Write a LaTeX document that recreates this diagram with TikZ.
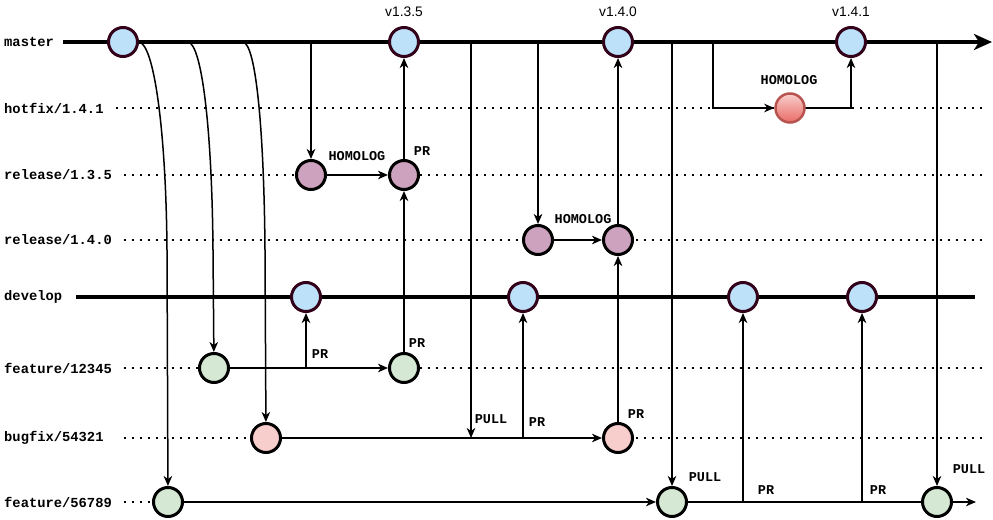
\documentclass[tikz,border=0pt]{standalone}
\usepackage{fontspec}
\setmainfont{Liberation Sans}
\setmonofont{Liberation Mono}
\usepackage{xcolor}
\definecolor{ColMain}{RGB}{190,225,250}
\definecolor{ColMainD}{RGB}{51,0,26}
\definecolor{ColRel}{RGB}{205,162,190}
\definecolor{ColFeat}{RGB}{213,232,212}
\definecolor{ColBug}{RGB}{248,206,204}
\definecolor{ColHotT}{RGB}{248,206,204}
\definecolor{ColHotB}{RGB}{234,107,102}
\definecolor{ColHotD}{RGB}{184,84,80}
\usepackage{tikz}
\usetikzlibrary{arrows.meta}
\tikzstyle{Commit}=[circle,draw=black,line width=3bp,minimum size=29bp,inner sep=0pt]
\tikzstyle{CommitMain}=[Commit,draw=ColMainD,fill=ColMain]
\tikzstyle{CommitRel}=[Commit,fill=ColRel]
\tikzstyle{CommitFeat}=[Commit,fill=ColFeat]
\tikzstyle{CommitBug}=[Commit,fill=ColBug]
\tikzstyle{CommitHot}=[Commit,line width=2.5bp,draw=ColHotD,top color=ColHotT,bottom color=ColHotB]
\tikzstyle{Trunk}=[line width=4bp,draw=black]
\tikzstyle{Lane}=[line width=1.6bp,dash pattern=on 1.6bp off 6.4bp]
\tikzstyle{Edge}=[line width=1.5bp,draw=black]
\tikzstyle{Merge}=[Edge,-{Stealth[length=10bp,width=8.5bp,inset=3bp]}]
\tikzstyle{NodeBr}=[anchor=west,inner sep=0pt,font=\ttfamily\bfseries\fontsize{13.8bp}{16bp}\selectfont]
\tikzstyle{NodeLb}=[inner sep=0pt,font=\ttfamily\bfseries\fontsize{13.5bp}{16bp}\selectfont]
\tikzstyle{NodeTag}=[inner sep=0pt,font=\fontsize{13.8bp}{16bp}\selectfont]

\begin{document}
\begin{tikzpicture}[x=1bp,y=-1bp]
        \useasboundingbox(0,0)rectangle(993,520);
        % branch names
        \node[NodeBr](lm)at(4,42){master};
        \node[NodeBr](lh)at(4,108){hotfix/1.4.1};
        \node[NodeBr](lr1)at(4,175){release/1.3.5};
        \node[NodeBr](lr2)at(4,240){release/1.4.0};
        \node[NodeBr](ld)at(4,297){develop};
        \node[NodeBr](lf1)at(4,368){feature/12345};
        \node[NodeBr](lb)at(4,438){bugfix/54321};
        \node[NodeBr](lf2)at(4,502){feature/56789};
        % lanes
        \coordinate(hs)at(116,108);\coordinate(he)at(982,108);
        \coordinate(r1s)at(124,175);\coordinate(r1e)at(982,175);
        \coordinate(r2s)at(124,240);\coordinate(r2e)at(982,240);
        \coordinate(f1s)at(124,368);\coordinate(f1e)at(982,368);
        \coordinate(bs)at(124,438);\coordinate(be)at(982,438);
        \coordinate(f2s)at(124,502);\coordinate(f2e)at(160,502);
        \draw[Lane](hs)--(he);
        \draw[Lane](r1s)--(r1e);
        \draw[Lane](r2s)--(r2e);
        \draw[Lane](f1s)--(f1e);
        \draw[Lane](bs)--(be);
        \draw[Lane](f2s)--(f2e);
        \coordinate(ms)at(63,42);\coordinate(me)at(992,42);
        \coordinate(ds)at(76,297);\coordinate(de)at(975,297);
        \draw[Trunk,-{Stealth[length=18bp,width=16bp,inset=5bp]}](ms)--(me);
        \draw[Trunk](ds)--(de);
        % commits
        \node[CommitMain](M1)at(123,42){};
        \node[CommitMain](M2)at(404,42){};
        \node[CommitMain](M3)at(618,42){};
        \node[CommitMain](M4)at(851,42){};
        \node[CommitHot](H)at(790,108){};
        \node[CommitRel](R1)at(311,175){};
        \node[CommitRel](R2)at(404,175){};
        \node[CommitRel](L1)at(538,240){};
        \node[CommitRel](L2)at(618,240){};
        \node[CommitMain](D1)at(306,297){};
        \node[CommitMain](D2)at(523,297){};
        \node[CommitMain](D3)at(743,297){};
        \node[CommitMain](D4)at(862,297){};
        \node[CommitFeat](F1)at(214,368){};
        \node[CommitFeat](F2)at(404,368){};
        \node[CommitBug](B1)at(266,438){};
        \node[CommitBug](B2)at(618,438){};
        \node[CommitFeat](G1)at(168,502){};
        \node[CommitFeat](G2)at(672,502){};
        \node[CommitFeat](G3)at(937,502){};
        % tags
        \node[NodeTag](v1)at(404,12){v1.3.5};
        \node[NodeTag](v2)at(618,12){v1.4.0};
        \node[NodeTag](v3)at(851,12){v1.4.1};
        % branching off master
        \coordinate(c1s)at(139,42);\coordinate(c1m)at(167,250);
        \coordinate(c2s)at(188,42);\coordinate(c2m)at(213,250);
        \coordinate(c3s)at(243,42);\coordinate(c3m)at(265,250);
        \draw[Merge](c1s)..controls(154,44)and(166,130)..(c1m)--(G1);
        \draw[Merge](c2s)..controls(202,44)and(212,130)..(c2m)--(F1);
        \draw[Merge](c3s)..controls(256,44)and(264,130)..(c3m)--(B1);
        \coordinate(m311)at(311,42);
        \coordinate(m471)at(471,42);
        \coordinate(m538)at(538,42);
        \coordinate(m672)at(672,42);
        \coordinate(m713)at(713,42);
        \coordinate(m937)at(937,42);
        % releases and hotfix
        \draw[Merge](m311)--(R1);
        \draw[Merge](R1)--(R2);
        \draw[Merge](R2)--(M2);
        \draw[Merge](m538)--(L1);
        \draw[Merge](L1)--(L2);
        \draw[Merge](L2)--(M3);
        \draw[Merge](m713)|-(H);
        \draw[Merge](H)-|(M4);
        % feature/12345
        \coordinate(f1pr)at(306,368);
        \draw[Merge](F1)--(F2);
        \draw[Merge](f1pr)--(D1);
        \draw[Merge](F2)--(R2);
        % bugfix/54321
        \coordinate(bpull)at(471,438);
        \coordinate(bpr)at(523,438);
        \draw[Merge](B1)--(B2);
        \draw[Merge](m471)--(bpull);
        \draw[Merge](bpr)--(D2);
        \draw[Merge](B2)--(L2);
        % feature/56789
        \coordinate(g743)at(743,502);
        \coordinate(g862)at(862,502);
        \coordinate(gend)at(976,502);
        \draw[Merge](G1)--(G2);
        \draw[Merge](m672)--(G2);
        \draw[Edge](G2)--(G3);
        \draw[Merge](g743)--(D3);
        \draw[Merge](g862)--(D4);
        \draw[Merge](m937)--(G3);
        \draw[Merge](G3)--(gend);
        % labels
        \node[NodeLb](t1)at(357,156){HOMOLOG};
        \node[NodeLb](t2)at(422,151){PR};
        \node[NodeLb](t3)at(789,80){HOMOLOG};
        \node[NodeLb](t4)at(583,219){HOMOLOG};
        \node[NodeLb](t5)at(320,354){PR};
        \node[NodeLb](t6)at(417,343){PR};
        \node[NodeLb](t7)at(491,419){PULL};
        \node[NodeLb](t8)at(537,422){PR};
        \node[NodeLb](t9)at(636,414){PR};
        \node[NodeLb](t10)at(705,477){PULL};
        \node[NodeLb](t11)at(766,490){PR};
        \node[NodeLb](t12)at(878,490){PR};
        \node[NodeLb](t13)at(969,469){PULL};
    \end{tikzpicture}
\end{document}
